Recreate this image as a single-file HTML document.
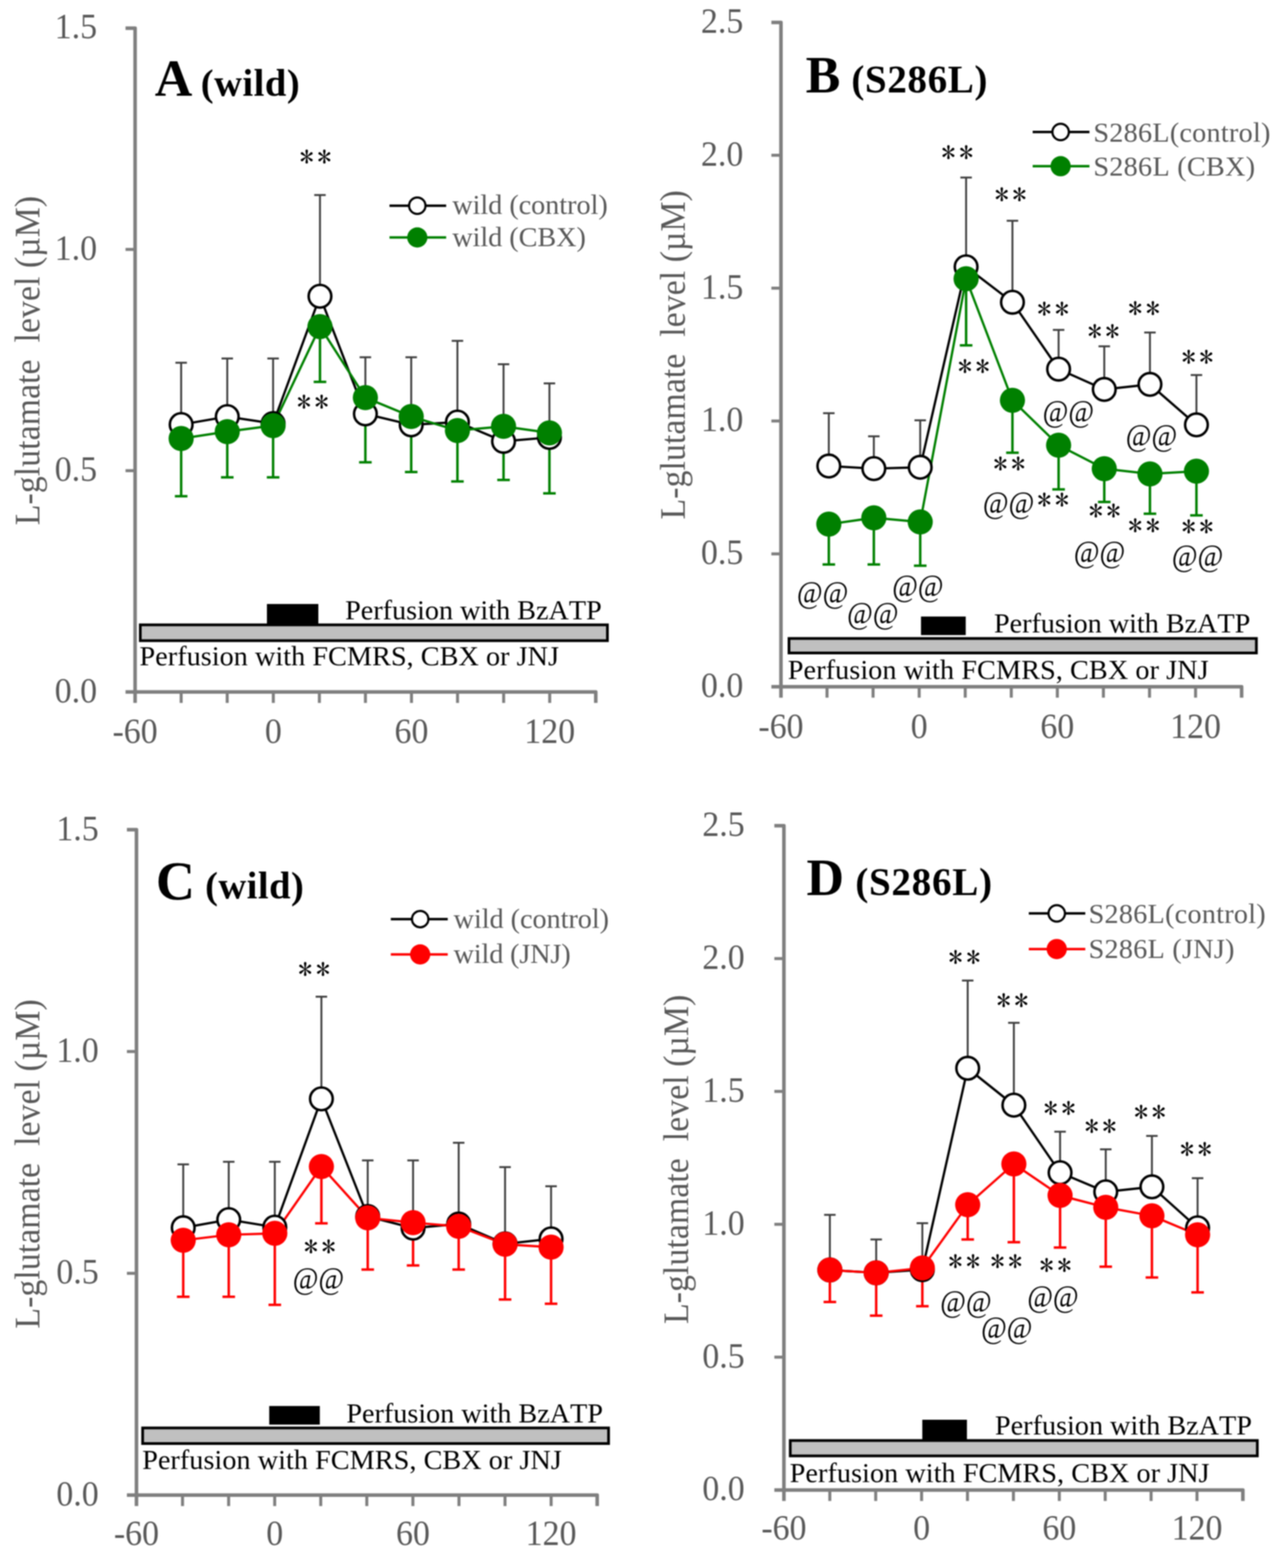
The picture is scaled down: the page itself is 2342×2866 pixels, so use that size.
<!DOCTYPE html>
<html><head><meta charset="utf-8"><title>L-glutamate level</title>
<style>html,body{margin:0;padding:0;background:#fff;overflow:hidden;width:2342px;height:2866px;}svg{display:block;filter:blur(0.8px);}text{font-kerning:none;font-feature-settings:"kern" 0;}</style></head>
<body><svg width="2342" height="2866" viewBox="0 0 2342 2866" font-family="'Liberation Serif','Times New Roman',serif">
<rect width="2342" height="2866" fill="#fff"/>
<text transform="translate(72.3,659) rotate(-90) scale(1,1.06)" text-anchor="middle" font-size="62" fill="#595959" style="white-space:pre">L-glutamate  level (µM)</text>
<text transform="translate(177.5,1264.8) scale(1,1.05)" y="18" text-anchor="end" font-size="62" fill="#595959">0.0</text>
<text transform="translate(177.5,860.3) scale(1,1.05)" y="18" text-anchor="end" font-size="62" fill="#595959">0.5</text>
<text transform="translate(177.5,455.9) scale(1,1.05)" y="18" text-anchor="end" font-size="62" fill="#595959">1.0</text>
<text transform="translate(177.5,51.4) scale(1,1.05)" y="18" text-anchor="end" font-size="62" fill="#595959">1.5</text>
<text transform="translate(247,1358) scale(1,1.05)" text-anchor="middle" font-size="62" fill="#595959">-60</text>
<text transform="translate(499.7,1358) scale(1,1.05)" text-anchor="middle" font-size="62" fill="#595959">0</text>
<text transform="translate(752.3,1358) scale(1,1.05)" text-anchor="middle" font-size="62" fill="#595959">60</text>
<text transform="translate(1005,1358) scale(1,1.05)" text-anchor="middle" font-size="62" fill="#595959">120</text>
<path d="M229.5,51.4H247V1284.8" fill="none" stroke="#7f7f7f" stroke-width="6.5" stroke-linejoin="round"/>
<path d="M229.5,860.3H247" stroke="#7f7f7f" stroke-width="5.5"/>
<path d="M229.5,455.9H247" stroke="#7f7f7f" stroke-width="5.5"/>
<path d="M229.5,1264.8H1089.2V1284.8" fill="none" stroke="#7f7f7f" stroke-width="6.5" stroke-linejoin="round"/>
<path d="M331.2,1264.8V1284.8" stroke="#7f7f7f" stroke-width="5.5"/>
<path d="M415.4,1264.8V1284.8" stroke="#7f7f7f" stroke-width="5.5"/>
<path d="M499.7,1264.8V1284.8" stroke="#7f7f7f" stroke-width="5.5"/>
<path d="M583.9,1264.8V1284.8" stroke="#7f7f7f" stroke-width="5.5"/>
<path d="M668.1,1264.8V1284.8" stroke="#7f7f7f" stroke-width="5.5"/>
<path d="M752.3,1264.8V1284.8" stroke="#7f7f7f" stroke-width="5.5"/>
<path d="M836.5,1264.8V1284.8" stroke="#7f7f7f" stroke-width="5.5"/>
<path d="M920.8,1264.8V1284.8" stroke="#7f7f7f" stroke-width="5.5"/>
<path d="M1005,1264.8V1284.8" stroke="#7f7f7f" stroke-width="5.5"/>
<rect x="488" y="1104" width="94" height="37" fill="#000"/>
<rect x="256.5" y="1142.1" width="854" height="28.9" fill="#c0c0c0" stroke="#000" stroke-width="5"/>
<text x="826.9" y="390.5" font-size="51.6" letter-spacing="-0.07" fill="#595959">wild (control)</text>
<text x="826.9" y="449.8" font-size="51.6" letter-spacing="-0.09" fill="#595959">wild (CBX)</text>
<text x="630.9" y="1132" font-size="51.6" letter-spacing="-0.04" fill="#000">Perfusion with BzATP</text>
<text x="255" y="1216.4" font-size="51.6" letter-spacing="0.05" fill="#000">Perfusion with FCMRS, CBX or JNJ</text>
<text x="282.9" y="175.2" font-size="95" font-weight="bold" fill="#000">A</text>
<text x="367.1" y="174.8" font-size="70.5" font-weight="bold" letter-spacing="0.91" fill="#000">(wild)</text>
<path d="M712.1,376H815.7" stroke="#000" stroke-width="4.5"/>
<circle cx="762.9" cy="376" r="15" fill="#fff" stroke="#000" stroke-width="4"/>
<path d="M712.1,434H815.7" stroke="#008000" stroke-width="4.5"/>
<circle cx="762.9" cy="434" r="18.5" fill="#008000"/>
<path d="M331.2,776V662.9M320.7,662.9H341.7" stroke="#3f3f3f" stroke-width="3.5" fill="none"/>
<path d="M415.5,761.5V655.3M405,655.3H426" stroke="#3f3f3f" stroke-width="3.5" fill="none"/>
<path d="M499.3,774.2V655.3M488.8,655.3H509.8" stroke="#3f3f3f" stroke-width="3.5" fill="none"/>
<path d="M585,541.5V356.6M574.5,356.6H595.5" stroke="#3f3f3f" stroke-width="3.5" fill="none"/>
<path d="M668,756.5V653M657.5,653H678.5" stroke="#3f3f3f" stroke-width="3.5" fill="none"/>
<path d="M751.8,776.5V653M741.3,653H762.3" stroke="#3f3f3f" stroke-width="3.5" fill="none"/>
<path d="M836.3,771.4V623M825.8,623H846.8" stroke="#3f3f3f" stroke-width="3.5" fill="none"/>
<path d="M920.6,806.7V665.7M910.1,665.7H931.1" stroke="#3f3f3f" stroke-width="3.5" fill="none"/>
<path d="M1004.5,799.5V700.7M994,700.7H1015" stroke="#3f3f3f" stroke-width="3.5" fill="none"/>
<path d="M331.2,801.6V907.1M319.7,907.1H342.7" stroke="#008000" stroke-width="4.5" fill="none"/>
<path d="M415.5,788.9V872.6M404,872.6H427" stroke="#008000" stroke-width="4.5" fill="none"/>
<path d="M499.3,777.9V872.6M487.8,872.6H510.8" stroke="#008000" stroke-width="4.5" fill="none"/>
<path d="M585,597V697.9M573.5,697.9H596.5" stroke="#008000" stroke-width="4.5" fill="none"/>
<path d="M668,726.7V845M656.5,845H679.5" stroke="#008000" stroke-width="4.5" fill="none"/>
<path d="M751.8,761.3V862.7M740.3,862.7H763.3" stroke="#008000" stroke-width="4.5" fill="none"/>
<path d="M836.3,786.9V880M824.8,880H847.8" stroke="#008000" stroke-width="4.5" fill="none"/>
<path d="M920.6,779.3V877.2M909.1,877.2H932.1" stroke="#008000" stroke-width="4.5" fill="none"/>
<path d="M1004.5,791.2V901.8M993,901.8H1016" stroke="#008000" stroke-width="4.5" fill="none"/>
<polyline points="331.2,776 415.5,761.5 499.3,774.2 585,541.5 668,756.5 751.8,776.5 836.3,771.4 920.6,806.7 1004.5,799.5" fill="none" stroke="#000" stroke-width="4.2" stroke-linejoin="round"/>
<polyline points="331.2,801.6 415.5,788.9 499.3,777.9 585,597 668,726.7 751.8,761.3 836.3,786.9 920.6,779.3 1004.5,791.2" fill="none" stroke="#008000" stroke-width="4.2" stroke-linejoin="round"/>
<circle cx="331.2" cy="776" r="20.7" fill="#fff" stroke="#000" stroke-width="4.6"/>
<circle cx="415.5" cy="761.5" r="20.7" fill="#fff" stroke="#000" stroke-width="4.6"/>
<circle cx="499.3" cy="774.2" r="20.7" fill="#fff" stroke="#000" stroke-width="4.6"/>
<circle cx="585" cy="541.5" r="20.7" fill="#fff" stroke="#000" stroke-width="4.6"/>
<circle cx="668" cy="756.5" r="20.7" fill="#fff" stroke="#000" stroke-width="4.6"/>
<circle cx="751.8" cy="776.5" r="20.7" fill="#fff" stroke="#000" stroke-width="4.6"/>
<circle cx="836.3" cy="771.4" r="20.7" fill="#fff" stroke="#000" stroke-width="4.6"/>
<circle cx="920.6" cy="806.7" r="20.7" fill="#fff" stroke="#000" stroke-width="4.6"/>
<circle cx="1004.5" cy="799.5" r="20.7" fill="#fff" stroke="#000" stroke-width="4.6"/>
<circle cx="331.2" cy="801.6" r="23" fill="#008000"/>
<circle cx="415.5" cy="788.9" r="23" fill="#008000"/>
<circle cx="499.3" cy="777.9" r="23" fill="#008000"/>
<circle cx="585" cy="597" r="23" fill="#008000"/>
<circle cx="668" cy="726.7" r="23" fill="#008000"/>
<circle cx="751.8" cy="761.3" r="23" fill="#008000"/>
<circle cx="836.3" cy="786.9" r="23" fill="#008000"/>
<circle cx="920.6" cy="779.3" r="23" fill="#008000"/>
<circle cx="1004.5" cy="791.2" r="23" fill="#008000"/>
<text x="580.1" y="305.7" text-anchor="middle" letter-spacing="6.30" font-family="IPAGothic,'Liberation Serif',sans-serif" font-size="52" fill="#000">**</text>
<text x="575.1" y="753.6" text-anchor="middle" letter-spacing="6.30" font-family="IPAGothic,'Liberation Serif',sans-serif" font-size="52" fill="#000">**</text>
<text transform="translate(1252.3,648.5) rotate(-90) scale(1,1.06)" text-anchor="middle" font-size="62" fill="#595959" style="white-space:pre">L-glutamate  level (µM)</text>
<text transform="translate(1359,1255.2) scale(1,1.05)" y="18" text-anchor="end" font-size="62" fill="#595959">0.0</text>
<text transform="translate(1359,1012.4) scale(1,1.05)" y="18" text-anchor="end" font-size="62" fill="#595959">0.5</text>
<text transform="translate(1359,769.5) scale(1,1.05)" y="18" text-anchor="end" font-size="62" fill="#595959">1.0</text>
<text transform="translate(1359,526.7) scale(1,1.05)" y="18" text-anchor="end" font-size="62" fill="#595959">1.5</text>
<text transform="translate(1359,283.8) scale(1,1.05)" y="18" text-anchor="end" font-size="62" fill="#595959">2.0</text>
<text transform="translate(1359,41) scale(1,1.05)" y="18" text-anchor="end" font-size="62" fill="#595959">2.5</text>
<text transform="translate(1427.8,1348.5) scale(1,1.05)" text-anchor="middle" font-size="62" fill="#595959">-60</text>
<text transform="translate(1680.5,1348.5) scale(1,1.05)" text-anchor="middle" font-size="62" fill="#595959">0</text>
<text transform="translate(1933.1,1348.5) scale(1,1.05)" text-anchor="middle" font-size="62" fill="#595959">60</text>
<text transform="translate(2185.8,1348.5) scale(1,1.05)" text-anchor="middle" font-size="62" fill="#595959">120</text>
<path d="M1410.3,41H1427.8V1275.2" fill="none" stroke="#7f7f7f" stroke-width="6.5" stroke-linejoin="round"/>
<path d="M1410.3,1012.4H1427.8" stroke="#7f7f7f" stroke-width="5.5"/>
<path d="M1410.3,769.5H1427.8" stroke="#7f7f7f" stroke-width="5.5"/>
<path d="M1410.3,526.7H1427.8" stroke="#7f7f7f" stroke-width="5.5"/>
<path d="M1410.3,283.8H1427.8" stroke="#7f7f7f" stroke-width="5.5"/>
<path d="M1410.3,1255.2H2270V1275.2" fill="none" stroke="#7f7f7f" stroke-width="6.5" stroke-linejoin="round"/>
<path d="M1512,1255.2V1275.2" stroke="#7f7f7f" stroke-width="5.5"/>
<path d="M1596.2,1255.2V1275.2" stroke="#7f7f7f" stroke-width="5.5"/>
<path d="M1680.5,1255.2V1275.2" stroke="#7f7f7f" stroke-width="5.5"/>
<path d="M1764.7,1255.2V1275.2" stroke="#7f7f7f" stroke-width="5.5"/>
<path d="M1848.9,1255.2V1275.2" stroke="#7f7f7f" stroke-width="5.5"/>
<path d="M1933.1,1255.2V1275.2" stroke="#7f7f7f" stroke-width="5.5"/>
<path d="M2017.3,1255.2V1275.2" stroke="#7f7f7f" stroke-width="5.5"/>
<path d="M2101.6,1255.2V1275.2" stroke="#7f7f7f" stroke-width="5.5"/>
<path d="M2185.8,1255.2V1275.2" stroke="#7f7f7f" stroke-width="5.5"/>
<rect x="1683.8" y="1126.9" width="81.8" height="33.9" fill="#000"/>
<rect x="1442.5" y="1167" width="854.5" height="26.5" fill="#c0c0c0" stroke="#000" stroke-width="5"/>
<text x="1998.9" y="258.5" font-size="51.6" letter-spacing="0.43" fill="#595959">S286L(control)</text>
<text x="1998.9" y="321.1" font-size="51.6" letter-spacing="0.48" fill="#595959">S286L (CBX)</text>
<text x="1817.2" y="1156.4" font-size="51.6" letter-spacing="-0.07" fill="#000">Perfusion with BzATP</text>
<text x="1440.3" y="1241" font-size="51.6" letter-spacing="0.13" fill="#000">Perfusion with FCMRS, CBX or JNJ</text>
<text x="1472.9" y="168.8" font-size="95" font-weight="bold" fill="#000">B</text>
<text x="1556.4" y="168.8" font-size="71.5" font-weight="bold" letter-spacing="1.11" fill="#000">(S286L)</text>
<path d="M1888,241.2H1991.8" stroke="#000" stroke-width="4.5"/>
<circle cx="1939.1" cy="241.2" r="15" fill="#fff" stroke="#000" stroke-width="4"/>
<path d="M1888,303.8H1991.8" stroke="#008000" stroke-width="4.5"/>
<circle cx="1939.1" cy="303.8" r="18.5" fill="#008000"/>
<path d="M1515.3,851.8V755.3M1504.8,755.3H1525.8" stroke="#3f3f3f" stroke-width="3.5" fill="none"/>
<path d="M1597.6,856.5V797.6M1587.1,797.6H1608.1" stroke="#3f3f3f" stroke-width="3.5" fill="none"/>
<path d="M1682.4,854.1V768.2M1671.9,768.2H1692.9" stroke="#3f3f3f" stroke-width="3.5" fill="none"/>
<path d="M1766.3,487.7V324.4M1755.8,324.4H1776.8" stroke="#3f3f3f" stroke-width="3.5" fill="none"/>
<path d="M1851,552.4V403.6M1840.5,403.6H1861.5" stroke="#3f3f3f" stroke-width="3.5" fill="none"/>
<path d="M1935.4,674.7V602.9M1924.9,602.9H1945.9" stroke="#3f3f3f" stroke-width="3.5" fill="none"/>
<path d="M2018.9,711.8V632.9M2008.4,632.9H2029.4" stroke="#3f3f3f" stroke-width="3.5" fill="none"/>
<path d="M2102.4,702.6V607.8M2091.9,607.8H2112.9" stroke="#3f3f3f" stroke-width="3.5" fill="none"/>
<path d="M2187.4,776.6V685.6M2176.9,685.6H2197.9" stroke="#3f3f3f" stroke-width="3.5" fill="none"/>
<path d="M1515.3,958.1V1031.8M1503.8,1031.8H1526.8" stroke="#008000" stroke-width="4.5" fill="none"/>
<path d="M1597.6,946.4V1031.8M1586.1,1031.8H1609.1" stroke="#008000" stroke-width="4.5" fill="none"/>
<path d="M1682.4,954.1V1034.1M1670.9,1034.1H1693.9" stroke="#008000" stroke-width="4.5" fill="none"/>
<path d="M1766.3,509.6V631.2M1754.8,631.2H1777.8" stroke="#008000" stroke-width="4.5" fill="none"/>
<path d="M1851,731.7V827.6M1839.5,827.6H1862.5" stroke="#008000" stroke-width="4.5" fill="none"/>
<path d="M1935.4,813.8V894.4M1923.9,894.4H1946.9" stroke="#008000" stroke-width="4.5" fill="none"/>
<path d="M2018.9,856.7V917.5M2007.4,917.5H2030.4" stroke="#008000" stroke-width="4.5" fill="none"/>
<path d="M2102.4,866.2V939.1M2090.9,939.1H2113.9" stroke="#008000" stroke-width="4.5" fill="none"/>
<path d="M2187.4,861.3V941.9M2175.9,941.9H2198.9" stroke="#008000" stroke-width="4.5" fill="none"/>
<polyline points="1515.3,851.8 1597.6,856.5 1682.4,854.1 1766.3,487.7 1851,552.4 1935.4,674.7 2018.9,711.8 2102.4,702.6 2187.4,776.6" fill="none" stroke="#000" stroke-width="4.2" stroke-linejoin="round"/>
<polyline points="1515.3,958.1 1597.6,946.4 1682.4,954.1 1766.3,509.6 1851,731.7 1935.4,813.8 2018.9,856.7 2102.4,866.2 2187.4,861.3" fill="none" stroke="#008000" stroke-width="4.2" stroke-linejoin="round"/>
<circle cx="1515.3" cy="851.8" r="20.7" fill="#fff" stroke="#000" stroke-width="4.6"/>
<circle cx="1597.6" cy="856.5" r="20.7" fill="#fff" stroke="#000" stroke-width="4.6"/>
<circle cx="1682.4" cy="854.1" r="20.7" fill="#fff" stroke="#000" stroke-width="4.6"/>
<circle cx="1766.3" cy="487.7" r="20.7" fill="#fff" stroke="#000" stroke-width="4.6"/>
<circle cx="1851" cy="552.4" r="20.7" fill="#fff" stroke="#000" stroke-width="4.6"/>
<circle cx="1935.4" cy="674.7" r="20.7" fill="#fff" stroke="#000" stroke-width="4.6"/>
<circle cx="2018.9" cy="711.8" r="20.7" fill="#fff" stroke="#000" stroke-width="4.6"/>
<circle cx="2102.4" cy="702.6" r="20.7" fill="#fff" stroke="#000" stroke-width="4.6"/>
<circle cx="2187.4" cy="776.6" r="20.7" fill="#fff" stroke="#000" stroke-width="4.6"/>
<circle cx="1515.3" cy="958.1" r="23" fill="#008000"/>
<circle cx="1597.6" cy="946.4" r="23" fill="#008000"/>
<circle cx="1682.4" cy="954.1" r="23" fill="#008000"/>
<circle cx="1766.3" cy="509.6" r="23" fill="#008000"/>
<circle cx="1851" cy="731.7" r="23" fill="#008000"/>
<circle cx="1935.4" cy="813.8" r="23" fill="#008000"/>
<circle cx="2018.9" cy="856.7" r="23" fill="#008000"/>
<circle cx="2102.4" cy="866.2" r="23" fill="#008000"/>
<circle cx="2187.4" cy="861.3" r="23" fill="#008000"/>
<text x="1753.4" y="298" text-anchor="middle" letter-spacing="6.30" font-family="IPAGothic,'Liberation Serif',sans-serif" font-size="52" fill="#000">**</text>
<text x="1783.6" y="689.1" text-anchor="middle" letter-spacing="6.30" font-family="IPAGothic,'Liberation Serif',sans-serif" font-size="52" fill="#000">**</text>
<text x="1850.7" y="375.2" text-anchor="middle" letter-spacing="6.30" font-family="IPAGothic,'Liberation Serif',sans-serif" font-size="52" fill="#000">**</text>
<text x="1848.4" y="866.5" text-anchor="middle" letter-spacing="6.30" font-family="IPAGothic,'Liberation Serif',sans-serif" font-size="52" fill="#000">**</text>
<text x="1928.5" y="584.3" text-anchor="middle" letter-spacing="6.30" font-family="IPAGothic,'Liberation Serif',sans-serif" font-size="52" fill="#000">**</text>
<text x="1928.5" y="933.4" text-anchor="middle" letter-spacing="6.30" font-family="IPAGothic,'Liberation Serif',sans-serif" font-size="52" fill="#000">**</text>
<text transform="translate(1953.2,757.6) scale(1,1.13)" y="12.1" text-anchor="middle" font-size="51" fill="#000">@@</text>
<text transform="translate(1843.9,924.7) scale(1,1.13)" y="12.1" text-anchor="middle" font-size="51" fill="#000">@@</text>
<text x="2020.7" y="624.6" text-anchor="middle" letter-spacing="6.30" font-family="IPAGothic,'Liberation Serif',sans-serif" font-size="52" fill="#000">**</text>
<text x="2022.7" y="952.9" text-anchor="middle" letter-spacing="6.30" font-family="IPAGothic,'Liberation Serif',sans-serif" font-size="52" fill="#000">**</text>
<text transform="translate(2010.3,1014.5) scale(1,1.13)" y="12.1" text-anchor="middle" font-size="51" fill="#000">@@</text>
<text x="2094.7" y="582.8" text-anchor="middle" letter-spacing="6.30" font-family="IPAGothic,'Liberation Serif',sans-serif" font-size="52" fill="#000">**</text>
<text transform="translate(2105.3,801.4) scale(1,1.13)" y="12.1" text-anchor="middle" font-size="51" fill="#000">@@</text>
<text x="2094.7" y="980.3" text-anchor="middle" letter-spacing="6.30" font-family="IPAGothic,'Liberation Serif',sans-serif" font-size="52" fill="#000">**</text>
<text x="2192.6" y="672.1" text-anchor="middle" letter-spacing="6.30" font-family="IPAGothic,'Liberation Serif',sans-serif" font-size="52" fill="#000">**</text>
<text x="2192.6" y="981.7" text-anchor="middle" letter-spacing="6.30" font-family="IPAGothic,'Liberation Serif',sans-serif" font-size="52" fill="#000">**</text>
<text transform="translate(2189.4,1021.7) scale(1,1.13)" y="12.1" text-anchor="middle" font-size="51" fill="#000">@@</text>
<text transform="translate(1504,1088.7) scale(1,1.13)" y="12.1" text-anchor="middle" font-size="51" fill="#000">@@</text>
<text transform="translate(1595.8,1125.9) scale(1,1.13)" y="12.1" text-anchor="middle" font-size="51" fill="#000">@@</text>
<text transform="translate(1678.1,1076.5) scale(1,1.13)" y="12.1" text-anchor="middle" font-size="51" fill="#000">@@</text>
<text transform="translate(72.3,2127.4) rotate(-90) scale(1,1.06)" text-anchor="middle" font-size="62" fill="#595959" style="white-space:pre">L-glutamate  level (µM)</text>
<text transform="translate(180.5,2732.8) scale(1,1.05)" y="18" text-anchor="end" font-size="62" fill="#595959">0.0</text>
<text transform="translate(180.5,2327.4) scale(1,1.05)" y="18" text-anchor="end" font-size="62" fill="#595959">0.5</text>
<text transform="translate(180.5,1922) scale(1,1.05)" y="18" text-anchor="end" font-size="62" fill="#595959">1.0</text>
<text transform="translate(180.5,1516.6) scale(1,1.05)" y="18" text-anchor="end" font-size="62" fill="#595959">1.5</text>
<text transform="translate(249.5,2824.2) scale(1,1.05)" text-anchor="middle" font-size="62" fill="#595959">-60</text>
<text transform="translate(502.2,2824.2) scale(1,1.05)" text-anchor="middle" font-size="62" fill="#595959">0</text>
<text transform="translate(754.9,2824.2) scale(1,1.05)" text-anchor="middle" font-size="62" fill="#595959">60</text>
<text transform="translate(1007.6,2824.2) scale(1,1.05)" text-anchor="middle" font-size="62" fill="#595959">120</text>
<path d="M232,1516.6H249.5V2752.8" fill="none" stroke="#7f7f7f" stroke-width="6.5" stroke-linejoin="round"/>
<path d="M232,2327.4H249.5" stroke="#7f7f7f" stroke-width="5.5"/>
<path d="M232,1922H249.5" stroke="#7f7f7f" stroke-width="5.5"/>
<path d="M232,2732.8H1091.8V2752.8" fill="none" stroke="#7f7f7f" stroke-width="6.5" stroke-linejoin="round"/>
<path d="M333.7,2732.8V2752.8" stroke="#7f7f7f" stroke-width="5.5"/>
<path d="M418,2732.8V2752.8" stroke="#7f7f7f" stroke-width="5.5"/>
<path d="M502.2,2732.8V2752.8" stroke="#7f7f7f" stroke-width="5.5"/>
<path d="M586.4,2732.8V2752.8" stroke="#7f7f7f" stroke-width="5.5"/>
<path d="M670.6,2732.8V2752.8" stroke="#7f7f7f" stroke-width="5.5"/>
<path d="M754.9,2732.8V2752.8" stroke="#7f7f7f" stroke-width="5.5"/>
<path d="M839.1,2732.8V2752.8" stroke="#7f7f7f" stroke-width="5.5"/>
<path d="M923.3,2732.8V2752.8" stroke="#7f7f7f" stroke-width="5.5"/>
<path d="M1007.6,2732.8V2752.8" stroke="#7f7f7f" stroke-width="5.5"/>
<rect x="492.2" y="2569.9" width="92.5" height="34" fill="#000"/>
<rect x="260.8" y="2610" width="851.8" height="28.5" fill="#c0c0c0" stroke="#000" stroke-width="5"/>
<text x="829.3" y="1696.1" font-size="51.6" letter-spacing="-0.07" fill="#595959">wild (control)</text>
<text x="829.3" y="1760.3" font-size="51.6" letter-spacing="-0.26" fill="#595959">wild (JNJ)</text>
<text x="633.2" y="2599.7" font-size="51.6" letter-spacing="-0.04" fill="#000">Perfusion with BzATP</text>
<text x="259.9" y="2684.6" font-size="51.6" letter-spacing="0.06" fill="#000">Perfusion with FCMRS, CBX or JNJ</text>
<text x="285.1" y="1642.5" font-size="99" font-weight="bold" fill="#000">C</text>
<text x="374.9" y="1642.1" font-size="70.5" font-weight="bold" letter-spacing="0.89" fill="#000">(wild)</text>
<path d="M714.5,1679.9H818.6" stroke="#000" stroke-width="4.5"/>
<circle cx="768.2" cy="1679.9" r="15" fill="#fff" stroke="#000" stroke-width="4"/>
<path d="M714.5,1744.5H818.6" stroke="#ff0000" stroke-width="4.5"/>
<circle cx="768.2" cy="1744.5" r="18.5" fill="#ff0000"/>
<path d="M335,2244.1V2128.2M324.5,2128.2H345.5" stroke="#3f3f3f" stroke-width="3.5" fill="none"/>
<path d="M418.2,2229.2V2123.4M407.7,2123.4H428.7" stroke="#3f3f3f" stroke-width="3.5" fill="none"/>
<path d="M502.4,2243V2123.4M491.9,2123.4H512.9" stroke="#3f3f3f" stroke-width="3.5" fill="none"/>
<path d="M587.6,2008.5V1821.8M577.1,1821.8H598.1" stroke="#3f3f3f" stroke-width="3.5" fill="none"/>
<path d="M672.3,2223.4V2121.1M661.8,2121.1H682.8" stroke="#3f3f3f" stroke-width="3.5" fill="none"/>
<path d="M755.2,2244.8V2121.1M744.7,2121.1H765.7" stroke="#3f3f3f" stroke-width="3.5" fill="none"/>
<path d="M838.6,2237.2V2088.8M828.1,2088.8H849.1" stroke="#3f3f3f" stroke-width="3.5" fill="none"/>
<path d="M923.4,2273.5V2133.3M912.9,2133.3H933.9" stroke="#3f3f3f" stroke-width="3.5" fill="none"/>
<path d="M1007.5,2264.4V2168.3M997,2168.3H1018" stroke="#3f3f3f" stroke-width="3.5" fill="none"/>
<path d="M335,2267V2370.2M323.5,2370.2H346.5" stroke="#ff0000" stroke-width="4.5" fill="none"/>
<path d="M418.2,2257V2370.2M406.7,2370.2H429.7" stroke="#ff0000" stroke-width="4.5" fill="none"/>
<path d="M502.4,2254.3V2384.9M490.9,2384.9H513.9" stroke="#ff0000" stroke-width="4.5" fill="none"/>
<path d="M587.6,2132.2V2235.9M576.1,2235.9H599.1" stroke="#ff0000" stroke-width="4.5" fill="none"/>
<path d="M672.3,2226V2320.6M660.8,2320.6H683.8" stroke="#ff0000" stroke-width="4.5" fill="none"/>
<path d="M755.2,2234.7V2313M743.7,2313H766.7" stroke="#ff0000" stroke-width="4.5" fill="none"/>
<path d="M838.6,2241.6V2320.6M827.1,2320.6H850.1" stroke="#ff0000" stroke-width="4.5" fill="none"/>
<path d="M923.4,2274.3V2375.3M911.9,2375.3H934.9" stroke="#ff0000" stroke-width="4.5" fill="none"/>
<path d="M1007.5,2279.6V2382.9M996,2382.9H1019" stroke="#ff0000" stroke-width="4.5" fill="none"/>
<polyline points="335,2244.1 418.2,2229.2 502.4,2243 587.6,2008.5 672.3,2223.4 755.2,2244.8 838.6,2237.2 923.4,2273.5 1007.5,2264.4" fill="none" stroke="#000" stroke-width="4.2" stroke-linejoin="round"/>
<polyline points="335,2267 418.2,2257 502.4,2254.3 587.6,2132.2 672.3,2226 755.2,2234.7 838.6,2241.6 923.4,2274.3 1007.5,2279.6" fill="none" stroke="#ff0000" stroke-width="4.2" stroke-linejoin="round"/>
<circle cx="335" cy="2244.1" r="20.7" fill="#fff" stroke="#000" stroke-width="4.6"/>
<circle cx="418.2" cy="2229.2" r="20.7" fill="#fff" stroke="#000" stroke-width="4.6"/>
<circle cx="502.4" cy="2243" r="20.7" fill="#fff" stroke="#000" stroke-width="4.6"/>
<circle cx="587.6" cy="2008.5" r="20.7" fill="#fff" stroke="#000" stroke-width="4.6"/>
<circle cx="672.3" cy="2223.4" r="20.7" fill="#fff" stroke="#000" stroke-width="4.6"/>
<circle cx="755.2" cy="2244.8" r="20.7" fill="#fff" stroke="#000" stroke-width="4.6"/>
<circle cx="838.6" cy="2237.2" r="20.7" fill="#fff" stroke="#000" stroke-width="4.6"/>
<circle cx="923.4" cy="2273.5" r="20.7" fill="#fff" stroke="#000" stroke-width="4.6"/>
<circle cx="1007.5" cy="2264.4" r="20.7" fill="#fff" stroke="#000" stroke-width="4.6"/>
<circle cx="335" cy="2267" r="23" fill="#ff0000"/>
<circle cx="418.2" cy="2257" r="23" fill="#ff0000"/>
<circle cx="502.4" cy="2254.3" r="23" fill="#ff0000"/>
<circle cx="587.6" cy="2132.2" r="23" fill="#ff0000"/>
<circle cx="672.3" cy="2226" r="23" fill="#ff0000"/>
<circle cx="755.2" cy="2234.7" r="23" fill="#ff0000"/>
<circle cx="838.6" cy="2241.6" r="23" fill="#ff0000"/>
<circle cx="923.4" cy="2274.3" r="23" fill="#ff0000"/>
<circle cx="1007.5" cy="2279.6" r="23" fill="#ff0000"/>
<text x="577.4" y="1790.5" text-anchor="middle" letter-spacing="6.30" font-family="IPAGothic,'Liberation Serif',sans-serif" font-size="52" fill="#000">**</text>
<text x="587.8" y="2298.3" text-anchor="middle" letter-spacing="6.30" font-family="IPAGothic,'Liberation Serif',sans-serif" font-size="52" fill="#000">**</text>
<text transform="translate(582.3,2342.3) scale(1,1.13)" y="12.1" text-anchor="middle" font-size="51" fill="#000">@@</text>
<text transform="translate(1258.4,2119) rotate(-90) scale(1,1.06)" text-anchor="middle" font-size="62" fill="#595959" style="white-space:pre">L-glutamate  level (µM)</text>
<text transform="translate(1361.5,2723.5) scale(1,1.05)" y="18" text-anchor="end" font-size="62" fill="#595959">0.0</text>
<text transform="translate(1361.5,2480.6) scale(1,1.05)" y="18" text-anchor="end" font-size="62" fill="#595959">0.5</text>
<text transform="translate(1361.5,2237.8) scale(1,1.05)" y="18" text-anchor="end" font-size="62" fill="#595959">1.0</text>
<text transform="translate(1361.5,1994.9) scale(1,1.05)" y="18" text-anchor="end" font-size="62" fill="#595959">1.5</text>
<text transform="translate(1361.5,1752.1) scale(1,1.05)" y="18" text-anchor="end" font-size="62" fill="#595959">2.0</text>
<text transform="translate(1361.5,1509.2) scale(1,1.05)" y="18" text-anchor="end" font-size="62" fill="#595959">2.5</text>
<text transform="translate(1433.2,2814) scale(1,1.05)" text-anchor="middle" font-size="62" fill="#595959">-60</text>
<text transform="translate(1684.9,2814) scale(1,1.05)" text-anchor="middle" font-size="62" fill="#595959">0</text>
<text transform="translate(1936.7,2814) scale(1,1.05)" text-anchor="middle" font-size="62" fill="#595959">60</text>
<text transform="translate(2188.4,2814) scale(1,1.05)" text-anchor="middle" font-size="62" fill="#595959">120</text>
<path d="M1415.7,1509.2H1433.2V2743.5" fill="none" stroke="#7f7f7f" stroke-width="6.5" stroke-linejoin="round"/>
<path d="M1415.7,2480.6H1433.2" stroke="#7f7f7f" stroke-width="5.5"/>
<path d="M1415.7,2237.8H1433.2" stroke="#7f7f7f" stroke-width="5.5"/>
<path d="M1415.7,1994.9H1433.2" stroke="#7f7f7f" stroke-width="5.5"/>
<path d="M1415.7,1752.1H1433.2" stroke="#7f7f7f" stroke-width="5.5"/>
<path d="M1415.7,2723.5H2272.3V2743.5" fill="none" stroke="#7f7f7f" stroke-width="6.5" stroke-linejoin="round"/>
<path d="M1517.1,2723.5V2743.5" stroke="#7f7f7f" stroke-width="5.5"/>
<path d="M1601,2723.5V2743.5" stroke="#7f7f7f" stroke-width="5.5"/>
<path d="M1684.9,2723.5V2743.5" stroke="#7f7f7f" stroke-width="5.5"/>
<path d="M1768.8,2723.5V2743.5" stroke="#7f7f7f" stroke-width="5.5"/>
<path d="M1852.8,2723.5V2743.5" stroke="#7f7f7f" stroke-width="5.5"/>
<path d="M1936.7,2723.5V2743.5" stroke="#7f7f7f" stroke-width="5.5"/>
<path d="M2020.6,2723.5V2743.5" stroke="#7f7f7f" stroke-width="5.5"/>
<path d="M2104.5,2723.5V2743.5" stroke="#7f7f7f" stroke-width="5.5"/>
<path d="M2188.4,2723.5V2743.5" stroke="#7f7f7f" stroke-width="5.5"/>
<rect x="1686.2" y="2595" width="81.6" height="37" fill="#000"/>
<rect x="1444.8" y="2633" width="853.9" height="28.1" fill="#c0c0c0" stroke="#000" stroke-width="5"/>
<text x="1990.2" y="1686.6" font-size="51.6" letter-spacing="0.44" fill="#595959">S286L(control)</text>
<text x="1990.2" y="1750.5" font-size="51.6" letter-spacing="0.44" fill="#595959">S286L (JNJ)</text>
<text x="1819" y="2621.9" font-size="51.6" letter-spacing="-0.01" fill="#000">Perfusion with BzATP</text>
<text x="1443.8" y="2708.5" font-size="51.6" letter-spacing="0.07" fill="#000">Perfusion with FCMRS, CBX or JNJ</text>
<text x="1474.5" y="1636.1" font-size="95" font-weight="bold" fill="#000">D</text>
<text x="1563.7" y="1635.5" font-size="71.5" font-weight="bold" letter-spacing="1.28" fill="#000">(S286L)</text>
<path d="M1880.9,1669.5H1984.2" stroke="#000" stroke-width="4.5"/>
<circle cx="1932" cy="1669.5" r="15" fill="#fff" stroke="#000" stroke-width="4"/>
<path d="M1880.9,1734.7H1984.2" stroke="#ff0000" stroke-width="4.5"/>
<circle cx="1932" cy="1734.7" r="18.5" fill="#ff0000"/>
<path d="M1517.2,2321.3V2220.5M1506.7,2220.5H1527.7" stroke="#3f3f3f" stroke-width="3.5" fill="none"/>
<path d="M1601.9,2326.5V2265.4M1591.4,2265.4H1612.4" stroke="#3f3f3f" stroke-width="3.5" fill="none"/>
<path d="M1686.3,2320.7V2235.8M1675.8,2235.8H1696.8" stroke="#3f3f3f" stroke-width="3.5" fill="none"/>
<path d="M1769.2,1952.6V1792.2M1758.7,1792.2H1779.7" stroke="#3f3f3f" stroke-width="3.5" fill="none"/>
<path d="M1853.6,2020V1869.4M1843.1,1869.4H1864.1" stroke="#3f3f3f" stroke-width="3.5" fill="none"/>
<path d="M1938.1,2143.4V2068.5M1927.6,2068.5H1948.6" stroke="#3f3f3f" stroke-width="3.5" fill="none"/>
<path d="M2021.6,2178.5V2100.7M2011.1,2100.7H2032.1" stroke="#3f3f3f" stroke-width="3.5" fill="none"/>
<path d="M2106,2169.3V2076.3M2095.5,2076.3H2116.5" stroke="#3f3f3f" stroke-width="3.5" fill="none"/>
<path d="M2189.5,2244.2V2153.5M2179,2153.5H2200" stroke="#3f3f3f" stroke-width="3.5" fill="none"/>
<path d="M1517.2,2321.3V2379.8M1505.7,2379.8H1528.7" stroke="#ff0000" stroke-width="4.5" fill="none"/>
<path d="M1601.9,2326.5V2404.8M1590.4,2404.8H1613.4" stroke="#ff0000" stroke-width="4.5" fill="none"/>
<path d="M1686.3,2317.6V2387.6M1674.8,2387.6H1697.8" stroke="#ff0000" stroke-width="4.5" fill="none"/>
<path d="M1769.2,2202.1V2265.4M1757.7,2265.4H1780.7" stroke="#ff0000" stroke-width="4.5" fill="none"/>
<path d="M1853.6,2127.5V2270.6M1842.1,2270.6H1865.1" stroke="#ff0000" stroke-width="4.5" fill="none"/>
<path d="M1938.1,2185.1V2280.2M1926.6,2280.2H1949.6" stroke="#ff0000" stroke-width="4.5" fill="none"/>
<path d="M2021.6,2206.7V2315.3M2010.1,2315.3H2033.1" stroke="#ff0000" stroke-width="4.5" fill="none"/>
<path d="M2106,2222.3V2334.9M2094.5,2334.9H2117.5" stroke="#ff0000" stroke-width="4.5" fill="none"/>
<path d="M2189.5,2257.1V2362.3M2178,2362.3H2201" stroke="#ff0000" stroke-width="4.5" fill="none"/>
<polyline points="1517.2,2321.3 1601.9,2326.5 1686.3,2320.7 1769.2,1952.6 1853.6,2020 1938.1,2143.4 2021.6,2178.5 2106,2169.3 2189.5,2244.2" fill="none" stroke="#000" stroke-width="4.2" stroke-linejoin="round"/>
<polyline points="1517.2,2321.3 1601.9,2326.5 1686.3,2317.6 1769.2,2202.1 1853.6,2127.5 1938.1,2185.1 2021.6,2206.7 2106,2222.3 2189.5,2257.1" fill="none" stroke="#ff0000" stroke-width="4.2" stroke-linejoin="round"/>
<circle cx="1517.2" cy="2321.3" r="20.7" fill="#fff" stroke="#000" stroke-width="4.6"/>
<circle cx="1601.9" cy="2326.5" r="20.7" fill="#fff" stroke="#000" stroke-width="4.6"/>
<circle cx="1686.3" cy="2320.7" r="20.7" fill="#fff" stroke="#000" stroke-width="4.6"/>
<circle cx="1769.2" cy="1952.6" r="20.7" fill="#fff" stroke="#000" stroke-width="4.6"/>
<circle cx="1853.6" cy="2020" r="20.7" fill="#fff" stroke="#000" stroke-width="4.6"/>
<circle cx="1938.1" cy="2143.4" r="20.7" fill="#fff" stroke="#000" stroke-width="4.6"/>
<circle cx="2021.6" cy="2178.5" r="20.7" fill="#fff" stroke="#000" stroke-width="4.6"/>
<circle cx="2106" cy="2169.3" r="20.7" fill="#fff" stroke="#000" stroke-width="4.6"/>
<circle cx="2189.5" cy="2244.2" r="20.7" fill="#fff" stroke="#000" stroke-width="4.6"/>
<circle cx="1517.2" cy="2321.3" r="23" fill="#ff0000"/>
<circle cx="1601.9" cy="2326.5" r="23" fill="#ff0000"/>
<circle cx="1686.3" cy="2317.6" r="23" fill="#ff0000"/>
<circle cx="1769.2" cy="2202.1" r="23" fill="#ff0000"/>
<circle cx="1853.6" cy="2127.5" r="23" fill="#ff0000"/>
<circle cx="1938.1" cy="2185.1" r="23" fill="#ff0000"/>
<circle cx="2021.6" cy="2206.7" r="23" fill="#ff0000"/>
<circle cx="2106" cy="2222.3" r="23" fill="#ff0000"/>
<circle cx="2189.5" cy="2257.1" r="23" fill="#ff0000"/>
<text x="1766.4" y="1768.6" text-anchor="middle" letter-spacing="6.30" font-family="IPAGothic,'Liberation Serif',sans-serif" font-size="52" fill="#000">**</text>
<text x="1854.2" y="1848.4" text-anchor="middle" letter-spacing="6.30" font-family="IPAGothic,'Liberation Serif',sans-serif" font-size="52" fill="#000">**</text>
<text x="1940.4" y="2044.9" text-anchor="middle" letter-spacing="6.30" font-family="IPAGothic,'Liberation Serif',sans-serif" font-size="52" fill="#000">**</text>
<text x="2015.2" y="2078.1" text-anchor="middle" letter-spacing="6.30" font-family="IPAGothic,'Liberation Serif',sans-serif" font-size="52" fill="#000">**</text>
<text x="2105.5" y="2052.1" text-anchor="middle" letter-spacing="6.30" font-family="IPAGothic,'Liberation Serif',sans-serif" font-size="52" fill="#000">**</text>
<text x="2189.6" y="2119.8" text-anchor="middle" letter-spacing="6.30" font-family="IPAGothic,'Liberation Serif',sans-serif" font-size="52" fill="#000">**</text>
<text x="1766.1" y="2324.5" text-anchor="middle" letter-spacing="6.30" font-family="IPAGothic,'Liberation Serif',sans-serif" font-size="52" fill="#000">**</text>
<text x="1843" y="2324.5" text-anchor="middle" letter-spacing="6.30" font-family="IPAGothic,'Liberation Serif',sans-serif" font-size="52" fill="#000">**</text>
<text x="1932.9" y="2332.1" text-anchor="middle" letter-spacing="6.30" font-family="IPAGothic,'Liberation Serif',sans-serif" font-size="52" fill="#000">**</text>
<text transform="translate(1766,2384.7) scale(1,1.13)" y="12.1" text-anchor="middle" font-size="51" fill="#000">@@</text>
<text transform="translate(1840.6,2432.2) scale(1,1.13)" y="12.1" text-anchor="middle" font-size="51" fill="#000">@@</text>
<text transform="translate(1925.1,2375.2) scale(1,1.13)" y="12.1" text-anchor="middle" font-size="51" fill="#000">@@</text>
</svg></body></html>
